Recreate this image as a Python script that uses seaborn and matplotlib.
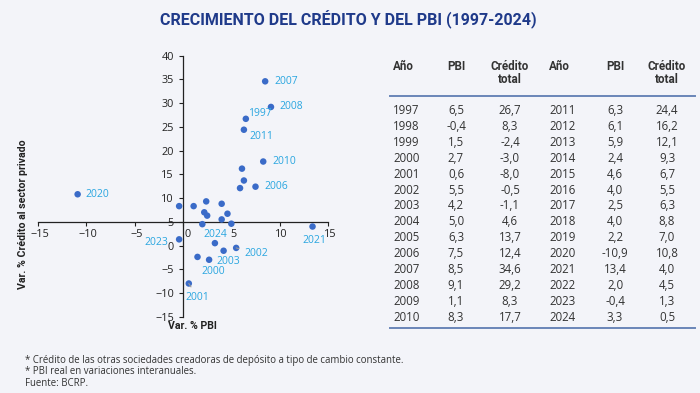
import matplotlib
matplotlib.use("Agg")
import matplotlib.pyplot as plt
import matplotlib.transforms as mtransforms
import seaborn as sns
import pandas as pd

# Data (Var. % PBI real, Var. % crédito total)
years = list(range(1997, 2025))
pbi = [6.5, -0.4, 1.5, 2.7, 0.6, 5.5, 4.2, 5.0, 6.3, 7.5, 8.5, 9.1, 1.1, 8.3,
       6.3, 6.1, 5.9, 2.4, 4.6, 4.0, 2.5, 4.0, 2.2, -10.9, 13.4, 2.0, -0.4, 3.3]
credito = [26.7, 8.3, -2.4, -3.0, -8.0, -0.5, -1.1, 4.6, 13.7, 12.4, 34.6, 29.2, 8.3, 17.7,
           24.4, 16.2, 12.1, 9.3, 6.7, 5.5, 6.3, 8.8, 7.0, 10.8, 4.0, 4.5, 1.3, 0.5]

# labelled years: (dx px, dy px, ha, leader line)
labelled = {
    2007: (9, 0, "left", False), 2008: (8, 0, "left", False),
    1997: (2, 5, "left", False), 2011: (6, -7, "left", False),
    2010: (9, 0, "left", False), 2006: (9, 0, "left", False),
    2020: (8, 0, "left", False), 2021: (2, -14, "center", False),
    2023: (-11, -3, "right", False), 2024: (0, 9, "center", False),
    2002: (8, -6, "left", True), 2003: (5, -11, "center", False),
    2000: (4, -12, "center", False), 2001: (9, -14, "center", True),
}

df = pd.DataFrame({"year": years, "pbi": pbi, "credito": credito})

bg = "#F3F4F9"
dark = "#333333"
navy = "#1F3A8A"
dot = "#3A6BC8"
lab = "#2AA6E0"
bold_font = ["Roboto", "DejaVu Sans"]

plt.rcParams["font.family"] = ["Open Sans", "DejaVu Sans"]

fig = plt.figure(figsize=(7, 3.93), dpi=100, facecolor=bg)
ax = fig.add_axes([38 / 700, 1 - 316.7 / 393, 290 / 700, 261 / 393])
ax.set_facecolor(bg)

sns.scatterplot(data=df, x="pbi", y="credito", ax=ax, color=dot, s=22,
                edgecolor="none", zorder=3)

ax.set_xlim(-15, 15)
ax.set_ylim(-15, 40)
ax.spines["left"].set_position(("data", 0))
ax.spines["bottom"].set_position(("data", 5))
ax.spines["top"].set_visible(False)
ax.spines["right"].set_visible(False)
for s in ["left", "bottom"]:
    ax.spines[s].set_color("#222222")
    ax.spines[s].set_linewidth(0.9)
ax.set_xticks([-15, -10, -5, 0, 5, 10, 15])
ax.set_yticks(range(-15, 45, 5))
ax.tick_params(axis="both", labelsize=7.8, colors="#222222", length=3, width=0.8)
ax.tick_params(axis="x", direction="out", pad=2)
ax.set_xlabel("")
ax.set_ylabel("")

# nudge x tick labels right (the "0" clears the vertical axis)
for lbl, v in zip(ax.get_xticklabels(), [-15, -10, -5, 0, 5, 10, 15]):
    shift = 5 if v == 0 else 2
    lbl.set_transform(lbl.get_transform() +
                      mtransforms.ScaledTranslation(shift / 100, 0, fig.dpi_scale_trans))

for yr, (dx, dy, ha, leader) in labelled.items():
    i = years.index(yr)
    ap = None
    if leader:
        ap = dict(arrowstyle="-", color="#999999", lw=0.8, shrinkA=2, shrinkB=3)
    ax.annotate(str(yr), (pbi[i], credito[i]), xytext=(dx, dy),
                textcoords="offset pixels", ha=ha, va="center",
                fontsize=7.5, color=lab, arrowprops=ap, zorder=4)

fig.text(23 / 700, 1 - 214 / 393, "Var. % Crédito al sector privado", rotation=90,
         ha="center", va="center", fontsize=7.6, fontweight="bold", color="#222222",
         family=bold_font)
fig.text(168 / 700, 1 - 326 / 393, "Var. % PBI", ha="left", va="center",
         fontsize=7.6, fontweight="bold", color="#222222", family=bold_font)

fig.text(0.497, 1 - 20 / 393, "CRECIMIENTO DEL CRÉDITO Y DEL PBI (1997-2024)",
         ha="center", va="center", fontsize=11.5, fontweight="bold", color=navy,
         family=bold_font)

# Table
cols = [(393, "left"), (456, "center"), (510, "center"),
        (549, "left"), (615, "center"), (667, "center")]
heads = [("Año", ""), ("PBI", ""), ("Crédito", "total")] * 2
for (x, ha), (h1, h2) in zip(cols, heads):
    fig.text(x / 700, 1 - 66.7 / 393, h1, ha=ha, va="center", fontsize=8.4,
             fontweight="bold", color=dark, family=bold_font)
    if h2:
        fig.text(x / 700, 1 - 79.5 / 393, h2, ha=ha, va="center", fontsize=8.4,
                 fontweight="bold", color=dark, family=bold_font)

fmt = lambda v: f"{v:.1f}".replace(".", ",")
for r in range(14):
    y = 1 - (110.5 + r * 15.9) / 393
    for half in range(2):
        i = r + half * 14
        vals = [str(years[i]), fmt(pbi[i]), fmt(credito[i])]
        for (x, ha), v in zip(cols[half * 3:half * 3 + 3], vals):
            fig.text(x / 700, y, v, ha=ha, va="center", fontsize=8.3, color=dark)

for yl in [96, 328]:
    fig.add_artist(plt.Line2D([390 / 700, 695 / 700], [1 - yl / 393] * 2,
                              color="#6A86B8", lw=1.4))

notes = ["* Crédito de las otras sociedades creadoras de depósito a tipo de cambio constante.",
         "* PBI real en variaciones interanuales.",
         "Fuente: BCRP."]
for k, t in enumerate(notes):
    fig.text(25 / 700, 1 - (360 + k * 11.6) / 393, t, ha="left", va="center",
             fontsize=6.9, color=dark)

fig.savefig("out.png", dpi=100, facecolor=bg)
